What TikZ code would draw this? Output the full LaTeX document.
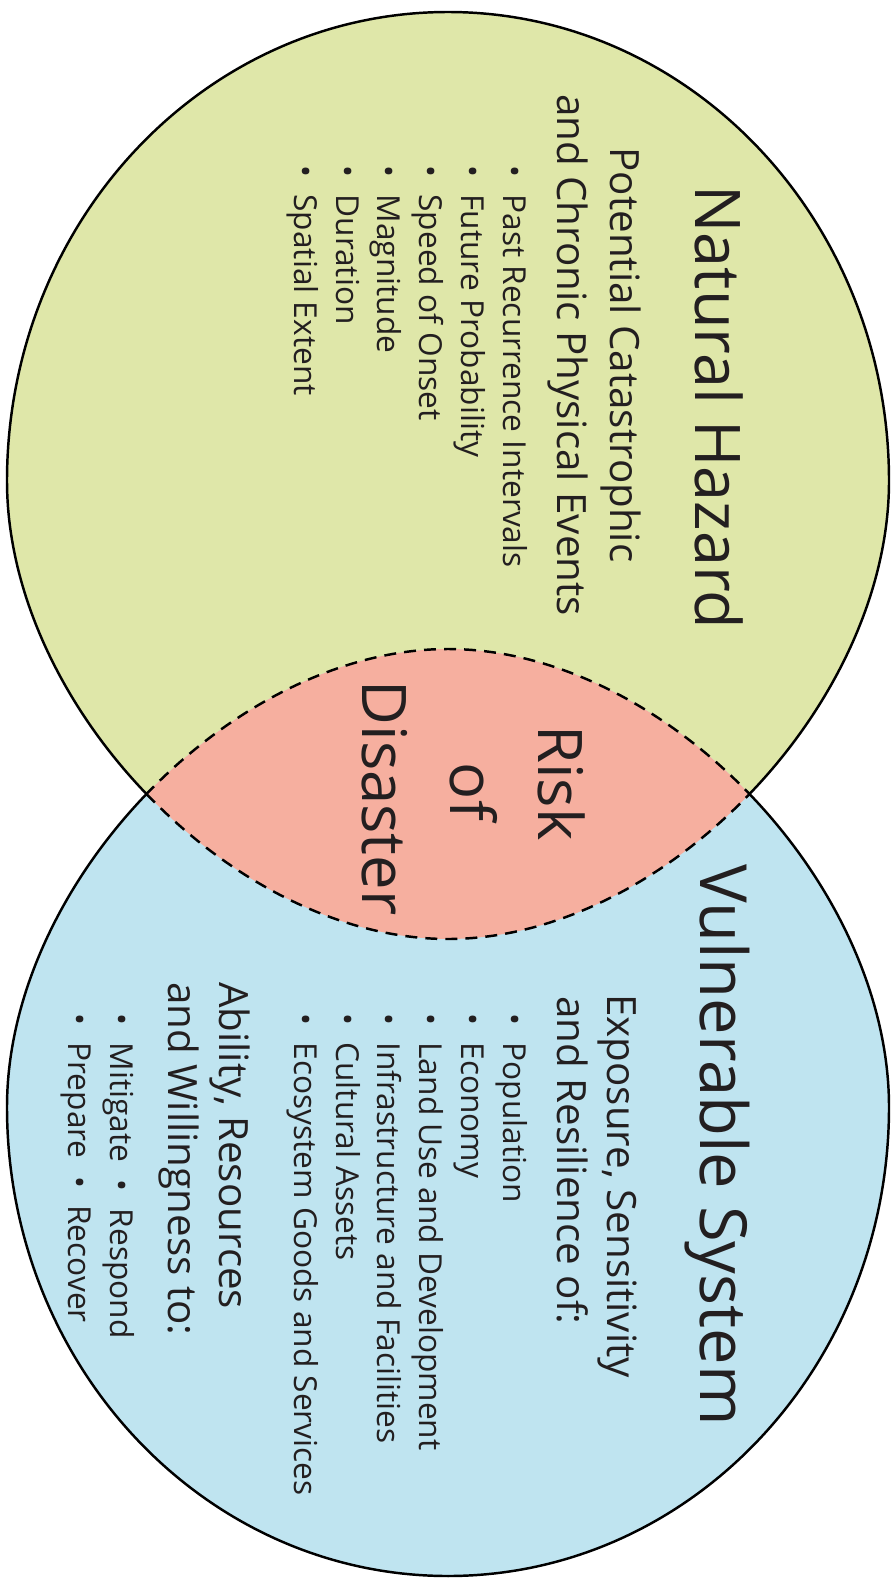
\documentclass[tikz,border=0pt]{standalone}
\usepackage{fontspec}
\setmainfont{Open Sans}
\usetikzlibrary{calc}

\definecolor{hazardgreen}{RGB}{223,231,169}
\definecolor{riskred}{RGB}{246,175,159}
\definecolor{systemblue}{RGB}{191,228,240}
\definecolor{inkdark}{RGB}{35,31,32}

\newcommand{\bul}{\textbullet\hskip0.55em}
\newcommand{\midbul}{\hskip0.55em\textbullet\hskip0.55em}

\tikzset{
  headline/.style={rotate=-90, inner sep=0pt, anchor=base, text=inkdark, font=\fontsize{17.9}{20}\selectfont},
  subline/.style={rotate=-90, inner sep=0pt, anchor=base west, text=inkdark, font=\fontsize{11.47}{13}\selectfont},
  itemline/.style={rotate=-90, inner sep=0pt, anchor=base west, text=inkdark, font=\fontsize{9}{11}\selectfont},
  riskline/.style={rotate=-90, inner sep=0pt, anchor=base, text=inkdark, font=\fontsize{17.5}{20}\selectfont},
  lensline/.style={dash pattern=on 3.4pt off 2.3pt}
}

\begin{document}
\begin{tikzpicture}[x=0.01cm, y=-0.01cm, line width=0.7pt]
    \useasboundingbox (0,0) rectangle (892,1585);

    \coordinate (IL) at (146.5,794);
    \coordinate (IR) at (749.5,794);
    \coordinate (GB) at (448,939);
    \coordinate (BT) at (448,649);

    \fill[hazardgreen] (IL) .. controls (63.25,707.5) and (7,593) .. (7,481)
        .. controls (7,222) and (204.6,12) .. (448,12)
        .. controls (691.4,12) and (889,222) .. (889,481)
        .. controls (889,593) and (832.75,707.5) .. (IR)
        .. controls (666.25,880.5) and (556,939) .. (GB)
        .. controls (340,939) and (229.75,880.5) .. (IL) -- cycle;
    \fill[systemblue] (IL) .. controls (63.25,880.5) and (7,995) .. (7,1107)
        .. controls (7,1366) and (204.6,1576) .. (448,1576)
        .. controls (691.4,1576) and (889,1366) .. (889,1107)
        .. controls (889,995) and (832.75,880.5) .. (IR)
        .. controls (666.25,707.5) and (556,649) .. (BT)
        .. controls (340,649) and (229.75,707.5) .. (IL) -- cycle;

    \draw (IL) .. controls (63.25,707.5) and (7,593) .. (7,481)
        .. controls (7,222) and (204.6,12) .. (448,12)
        .. controls (691.4,12) and (889,222) .. (889,481)
        .. controls (889,593) and (832.75,707.5) .. (IR);
    \draw (IL) .. controls (63.25,880.5) and (7,995) .. (7,1107)
        .. controls (7,1366) and (204.6,1576) .. (448,1576)
        .. controls (691.4,1576) and (889,1366) .. (889,1107)
        .. controls (889,995) and (832.75,880.5) .. (IR);
    \filldraw[fill=riskred, lensline] (IL) .. controls (229.75,880.5) and (340,939) .. (GB)
        .. controls (556,939) and (666.25,880.5) .. (IR)
        .. controls (666.25,707.5) and (556,649) .. (BT)
        .. controls (340,649) and (229.75,707.5) .. (IL) -- cycle;

    \node[headline] (hazard) at (695,407.5) {Natural Hazard};
    \node[subline, anchor=base] (hazsub1) at (610,355) {Potential Catastrophic};
    \node[subline, anchor=base] (hazsub2) at (557,355) {and Chronic Physical Events};
    \node[itemline] (haz1) at (503,164) {\bul Past Recurrence Intervals};
    \node[itemline] (haz2) at (461,164) {\bul Future Probability};
    \node[itemline] (haz3) at (419,164) {\bul Speed of Onset};
    \node[itemline] (haz4) at (377,164) {\bul Magnitude};
    \node[itemline] (haz5) at (336,164) {\bul Duration};
    \node[itemline] (haz6) at (294,164) {\bul Spatial Extent};

    \node[riskline] (risk1) at (538,783) {Risk};
    \node[riskline] (risk2) at (450,792) {of};
    \node[riskline] (risk3) at (362,798) {Disaster};

    \node[headline, font=\fontsize{18.5}{20}\selectfont] (system) at (700,1145) {Vulnerable System};
    \node[subline] (syssub1) at (607,993) {Exposure, Sensitivity};
    \node[subline] (syssub2) at (557,995) {and Resilience of:};
    \node[itemline] (sys1) at (503,1012) {\bul Population};
    \node[itemline] (sys2) at (461,1012) {\bul Economy};
    \node[itemline] (sys3) at (419,1012) {\bul Land Use and Development};
    \node[itemline] (sys4) at (377,1012) {\bul Infrastructure and Facilities};
    \node[itemline] (sys5) at (336,1012) {\bul Cultural Assets};
    \node[itemline] (sys6) at (294,1012) {\bul Ecosystem Goods and Services};
    \node[subline] (ability1) at (219,981) {Ability, Resources};
    \node[subline] (ability2) at (168,981) {and Willingness to:};
    \node[itemline] (act1) at (110,1012) {\bul Mitigate\midbul Respond};
    \node[itemline] (act2) at (68,1012) {\bul Prepare\midbul Recover};
\end{tikzpicture}
\end{document}
